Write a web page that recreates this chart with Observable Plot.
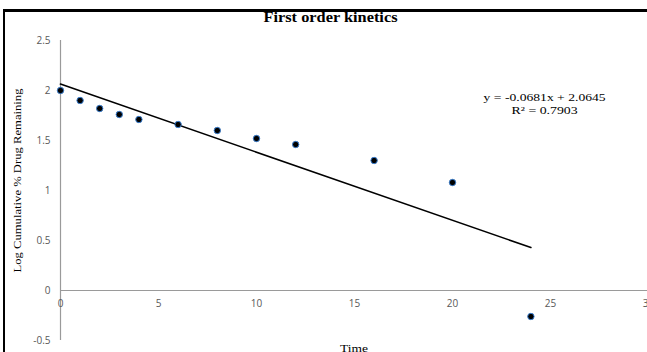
<!DOCTYPE html>
<html>
<head>
<meta charset="utf-8">
<script src="https://cdn.jsdelivr.net/npm/d3@7"></script>
<script src="https://cdn.jsdelivr.net/npm/@observablehq/plot@0.6"></script>
<style>
  html, body { margin: 0; padding: 0; background: #fff; overflow: hidden; }
  #wrap { position: relative; width: 647px; height: 352px; }
  #frame { position: absolute; left: 3px; top: 9px; width: 700px; height: 400px;
           border-top: 3px solid #000; border-left: 2px solid #000; pointer-events: none; }
</style>
</head>
<body>
<div id="wrap"><div id="frame"></div></div>
<script>
const time = [0, 1, 2, 3, 4, 6, 8, 10, 12, 16, 20, 24];
const logRemaining = [2.0, 1.9, 1.82, 1.76, 1.71, 1.66, 1.60, 1.52, 1.46, 1.30, 1.08, -0.26];
const slope = -0.0681;
const intercept = 2.0645;
const trendX = [0, 24];
const xTicks = [0, 5, 10, 15, 20, 25, 30];
const yTicks = [-0.5, 0, 0.5, 1, 1.5, 2, 2.5];
const title = "First order kinetics";
const yLabel = "Log Cumulative % Drug Remaining";
const xLabel = "Time";
const eqLine = "y = -0.0681x + 2.0645";
const r2Line = "R² = 0.7903";

const points = time.map((t, i) => ({x: t, y: logRemaining[i]}));
const trend = trendX.map(x => ({x, y: slope * x + intercept}));

const serif = "'Liberation Serif', 'Times New Roman', serif";
const sans = "'Open Sans', 'Liberation Sans', sans-serif";

const chart = Plot.plot({
  width: 647,
  height: 352,
  marginLeft: 60,
  marginTop: 0,
  marginRight: 0,
  marginBottom: 0,
  style: {fontFamily: sans, fontSize: "10px", color: "#595959", background: "transparent"},
  x: {domain: [0, 30], range: [60, 648], axis: null},
  y: {domain: [-0.5, 2.5], range: [340, 40], axis: null},
  marks: [
    Plot.ruleX([0], {y1: -0.5, y2: 2.5, stroke: "#9a9a9a", strokeWidth: 1.2}),
    Plot.ruleY([0], {x1: 0, x2: 30, stroke: "#9a9a9a", strokeWidth: 1.2}),
    Plot.axisY({ticks: yTicks, tickSize: 0, tickPadding: 10, label: null, tickFormat: d => String(d),
      fill: "#595959", fontSize: 10}),
    Plot.text(xTicks, {x: d => d, y: 0, dy: 13, text: d => String(d), fill: "#595959", fontSize: 10}),
    Plot.line(trend, {x: "x", y: "y", stroke: "#000", strokeWidth: 1.6}),
    Plot.dot(points, {x: "x", y: "y", r: 3.2, fill: "#000", stroke: "#3a7fd0", strokeWidth: 1}),
    Plot.text([title], {frameAnchor: "top", dx: -23.5, dy: 12, fontFamily: serif, fontWeight: "bold",
      fontSize: 14, fill: "#000", className: "t-title"}),
    Plot.text([yLabel], {frameAnchor: "left", dx: -43, dy: 4, rotate: -90, textAnchor: "middle",
      fontFamily: serif, fontSize: 11, fill: "#000", className: "t-ylab"}),
    Plot.text([xLabel], {frameAnchor: "bottom", dx: 0, dy: -1, fontFamily: serif, fontSize: 11,
      fill: "#000", className: "t-xlab"}),
    Plot.text([eqLine], {x: 24.7, y: 1.93, fontFamily: serif, fontSize: 11, fill: "#000",
      textAnchor: "middle", className: "t-eq"}),
    Plot.text([r2Line], {x: 24.7, y: 1.80, fontFamily: serif, fontSize: 11, fill: "#000",
      textAnchor: "middle", className: "t-r2"})
  ]
});
const stretch = {"t-title": 134, "t-ylab": 184, "t-xlab": 28, "t-eq": 122, "t-r2": 66};
for (const [cls, len] of Object.entries(stretch)) {
  d3.select(chart).selectAll(`.${cls} text`)
    .attr("textLength", len).attr("lengthAdjust", "spacingAndGlyphs");
}
document.getElementById("wrap").insertBefore(chart, document.getElementById("frame"));
</script>
</body>
</html>
